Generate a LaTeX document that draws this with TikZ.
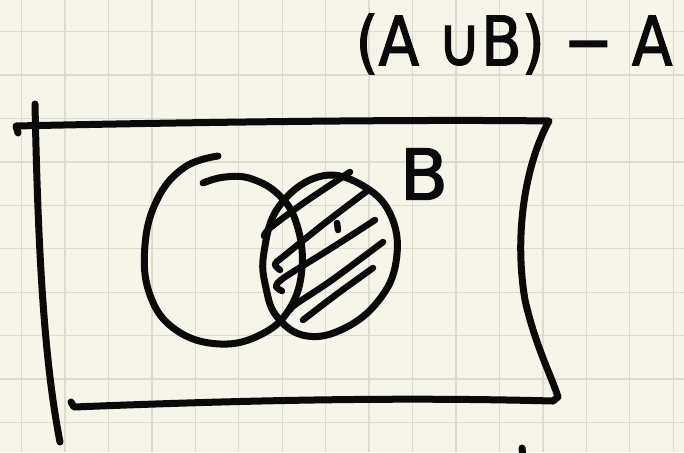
\documentclass[tikz,border=0pt]{standalone}
\usepackage{fontspec}
\newfontfamily\handfont[FakeBold=2]{DejaVu Sans}
\definecolor{paper}{RGB}{247,245,233}
\definecolor{gridline}{RGB}{221,220,206}
\definecolor{ink}{RGB}{10,10,10}

\begin{document}
\begin{tikzpicture}[x=1pt,y=-1pt,
  pen/.style={ink, line width=7pt, line cap=round, line join=round},
  hatch/.style={ink, line width=6.5pt, line cap=round, line join=round}]
\useasboundingbox (0,0) rectangle (684,452);
\fill[paper] (0,0) rectangle (684,452);
\foreach \k in {0,...,15}
  \draw[gridline, line width=1.3pt] (21.5+43.45*\k,0) -- (21.5+43.45*\k,452);
\foreach \k in {0,...,9}
  \draw[gridline, line width=1.3pt] (0,31.5+43.45*\k) -- (684,31.5+43.45*\k);

\node[inner sep=0pt, text=ink, font=\handfont\fontsize{68}{70}\selectfont] (title) at (514,44) {\scalebox{0.87}[1]{(A ∪B) − A}};
\node[inner sep=0pt, text=ink, font=\handfont\fontsize{70}{70}\selectfont] (labelB) at (424,174) {B};

% universe
\draw[pen] (35,104) .. controls (38,250) and (44,360) .. (60,442);
\draw[pen] (18,133) -- (16,126) .. controls (150,123) and (400,119) .. (549,121)
  .. controls (525,165) and (514,235) .. (525,300) .. controls (535,345) and (553,380) .. (558,397) -- (553,401);
\draw[pen] (553,401) .. controls (400,397) and (250,400) .. (74,407) -- (71,402);

% set A
\draw[pen] plot[smooth, tension=0.7] coordinates {(218,156) (185,167) (158,198) (145,245) (150,295) (176,330) (220,344) (262,334) (290,308) (302,268) (297,225) (280,196) (252,179) (225,177) (203,183)};

% set B
\draw[pen] plot[smooth cycle, tension=0.7] coordinates {(264,252) (280,205) (322,176) (365,187) (392,218) (396,262) (379,300) (345,328) (307,336) (278,318) (266,288)};

% B - A
\draw[hatch] plot[smooth] coordinates {(264,236) (270,228) (305,202) (350,172)};
\draw[hatch] plot[smooth] coordinates {(280,270) (275,264) (284,256) (325,223) (367,191)};
\draw[hatch] (337,223) -- (338,230);
\draw[hatch] plot[smooth] coordinates {(282,291) (276,286) (285,277) (330,249) (375,220)};
\draw[hatch] plot[smooth] coordinates {(290,310) (296,304) (332,280) (383,242)};
\draw[hatch] plot[smooth] coordinates {(303,320) (337,294) (373,268)};

\draw[pen] (522,448) -- (523,456);
\end{tikzpicture}
\end{document}
